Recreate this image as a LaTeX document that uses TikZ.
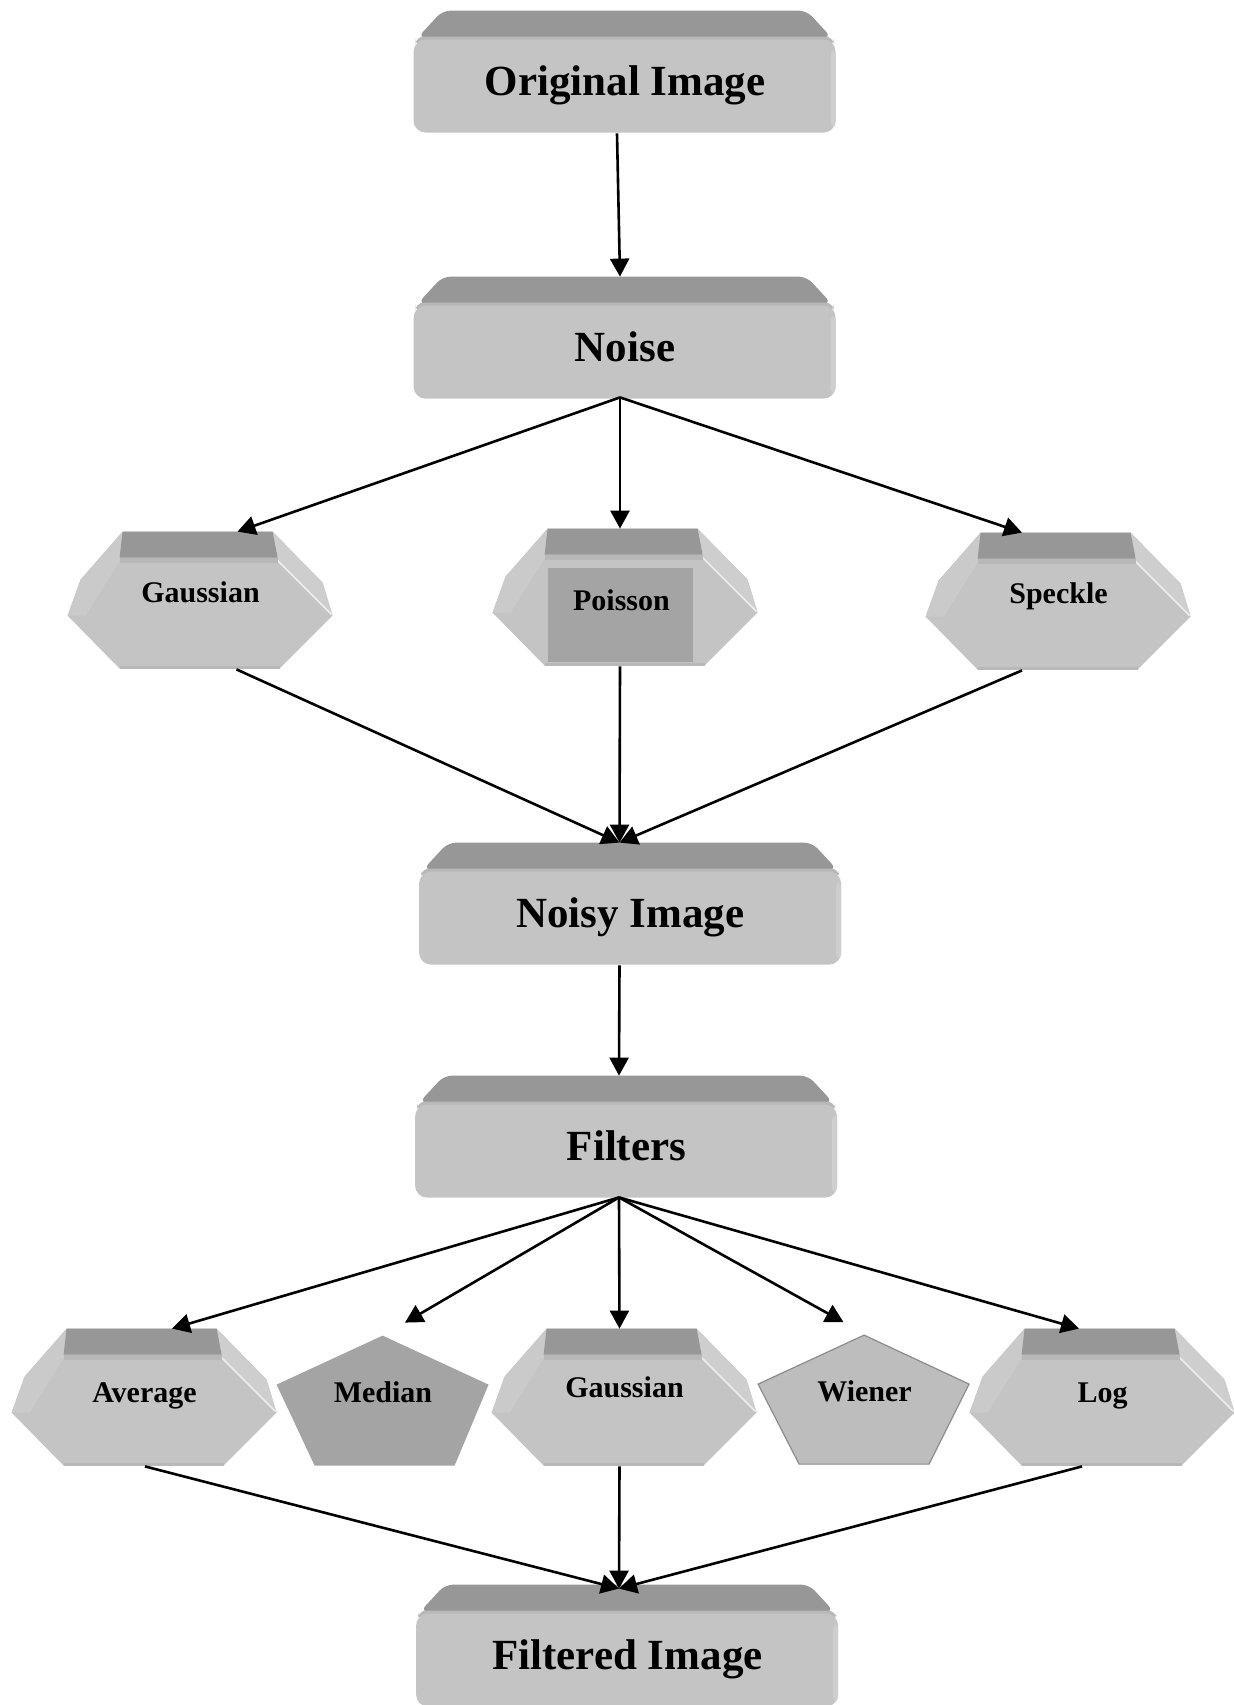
\documentclass[tikz,border=0pt]{standalone}
\usepackage{fontspec}
\setmainfont{Liberation Serif}
\usetikzlibrary{calc,arrows.meta,backgrounds}
\definecolor{bandc}{HTML}{979797}
\definecolor{facec}{HTML}{C4C4C4}
\definecolor{stripc}{HTML}{B8B8B8}
\definecolor{bevl}{HTML}{CACACA}
\definecolor{bevr}{HTML}{CECECE}
\definecolor{darkf}{HTML}{A4A4A4}
\definecolor{wienf}{HTML}{BDBDBD}
\newcommand\bl[2]{\raisebox{#1}[0pt][0pt]{#2}}
\newcommand\BoxBG[1]{%
  \begin{scope}[on background layer, shift={(#1.north west)}]
    \fill[bandc, rounded corners=4pt] (29,0) -- (393,0) -- (418,27) -- (4,27) -- cycle;
    \fill[stripc, rounded corners=4pt] (2,26) rectangle (420,36);
    \fill[facec, rounded corners=6pt] (0,29) rectangle (422,122);
    \fill[bevr, rounded corners=2pt] (417,40) rectangle (422,116);
  \end{scope}}
\newcommand\HexBG[2]{%
  \begin{scope}[on background layer, shift={(#1.north west)}]
    \fill[facec] (55,0) -- (205,0) -- (255,51) -- (265,84) -- (212,137) -- (52,137) -- (0,84) -- (13,48) -- cycle;
    \fill[bevl] (55,0) -- (13,48) -- (0,84) -- (18,84) -- (52,30) -- cycle;
    \fill[bevr] (205,0) -- (255,51) -- (265,84) -- (210,29) -- cycle;
    \draw[white!70!facec, line width=0.8pt] (210,29) -- (264,83);
    \fill[bandc] (55,0) -- (205,0) -- (210,26) -- (52,26) -- cycle;
    \fill[stripc] (52,26) rectangle (210,31);
    \fill[stripc] (52,134) rectangle (212,137);
    #2
  \end{scope}}
\begin{document}
\begin{tikzpicture}[x=0.5pt,y=-0.5pt,
  bigtxt/.style={font=\fontsize{21.5pt}{24pt}\selectfont\bfseries},
  smalltxt/.style={font=\fontsize{15pt}{17pt}\selectfont\bfseries},
  box3d/.style={bigtxt, inner sep=0pt, minimum width=211pt, minimum height=61pt},
  hex3d/.style={smalltxt, inner sep=0pt, minimum width=132.5pt, minimum height=68.5pt},
  pentnode/.style={smalltxt, inner sep=0pt, minimum width=106pt, minimum height=65pt},
  arr/.style={line width=1.3pt, -{Triangle[width=9.5pt,length=9pt]}}
]
\useasboundingbox (0,0) rectangle (1234,1705);

% main boxes
\node[box3d] (orig) at (625,72) {\bl{-11.5pt}{Original Image}};
\node[box3d] (noise) at (625,338) {\bl{-11.5pt}{Noise}};
\node[box3d] (noisy) at (630.5,904) {\bl{-11.5pt}{Noisy Image}};
\node[box3d] (filters) at (626.5,1137) {\bl{-11.5pt}{Filters}};
\node[box3d] (filtered) at (627.5,1646) {\bl{-11.5pt}{Filtered Image}};
\BoxBG{orig}\BoxBG{noise}\BoxBG{noisy}\BoxBG{filters}\BoxBG{filtered}

% noise types
\node[hex3d] (gauss1) at (200.5,600.5) {\bl{-0.75pt}{Gaussian}};
\node[hex3d] (poisson) at (625.5,597.5) {\bl{-6.25pt}{\hspace*{-4pt}Poisson}};
\node[hex3d] (speckle) at (1058.5,601.5) {\bl{-0.75pt}{Speckle}};
\HexBG{gauss1}{}
\HexBG{poisson}{\fill[darkf] (55,39) rectangle (200,133);}
\HexBG{speckle}{}

% filters
\node[hex3d] (average) at (144.5,1397.5) {\bl{-2.25pt}{Average}};
\node[pentnode] (median) at (383,1401) {\bl{-0.5pt}{Median}};
\node[hex3d] (gauss2) at (624.5,1397.5) {\bl{0pt}{Gaussian}};
\node[pentnode] (wiener) at (864.5,1400.5) {\bl{-0.5pt}{Wiener}};
\node[hex3d] (log) at (1102.5,1397.5) {\bl{-2.25pt}{Log}};
\HexBG{average}{}
\HexBG{gauss2}{}
\HexBG{log}{}
\begin{scope}[on background layer, shift={(median.north west)}]
  \fill[darkf] (106,0) -- (212,49) -- (178,130) -- (38,130) -- (0,49) -- cycle;
\end{scope}
\begin{scope}[on background layer, shift={(wiener.north west)}]
  \filldraw[fill=wienf, draw=black!45, line width=0.6pt] (106,0) -- (211,49) -- (171,129) -- (41,129) -- (0,49) -- cycle;
\end{scope}

% connectors
\draw[arr] ($(orig.south)+(-8,0)$) -- ($(noise.north)+(-5,0)$);
\draw[arr] ($(noise.south)+(-5,-2)$) -- ($(gauss1.north)+(37,0)$);
\draw[arr] ($(noise.south)+(-5,-2)$) -- ($(poisson.north)+(-5.5,0)$);
\draw[arr] ($(noise.south)+(-5,-2)$) -- ($(speckle.north)+(-36.5,0)$);
\draw[arr] ($(gauss1.south)+(36,0)$) -- ($(noisy.north)+(-11,0)$);
\draw[arr] ($(poisson.south)+(-5.5,0)$) -- ($(noisy.north)+(-11,0)$);
\draw[arr] ($(speckle.south)+(-36.5,0)$) -- ($(noisy.north)+(-11,0)$);
\draw[arr] ($(noisy.south)+(-11,0)$) -- ($(filters.north)+(-7.5,0)$);
\draw[arr] ($(filters.south)+(-7.5,-1)$) -- ($(average.north)+(27.5,0)$);
\draw[arr] ($(filters.south)+(-7.5,-1)$) -- ($(median.north)+(22,-13)$);
\draw[arr] ($(filters.south)+(-7.5,-1)$) -- ($(gauss2.north)+(-5,0)$);
\draw[arr] ($(filters.south)+(-7.5,-1)$) -- ($(wiener.north)+(-21,-13)$);
\draw[arr] ($(filters.south)+(-7.5,-1)$) -- ($(log.north)+(-23.5,0)$);
\draw[arr] ($(average.south)+(0.5,0)$) -- ($(filtered.north)+(-8.5,4)$);
\draw[arr] ($(gauss2.south)+(-5,0)$) -- ($(filtered.north)+(-8.5,4)$);
\draw[arr] ($(log.south)+(-20.5,0)$) -- ($(filtered.north)+(-8.5,4)$);
\end{tikzpicture}
\end{document}
